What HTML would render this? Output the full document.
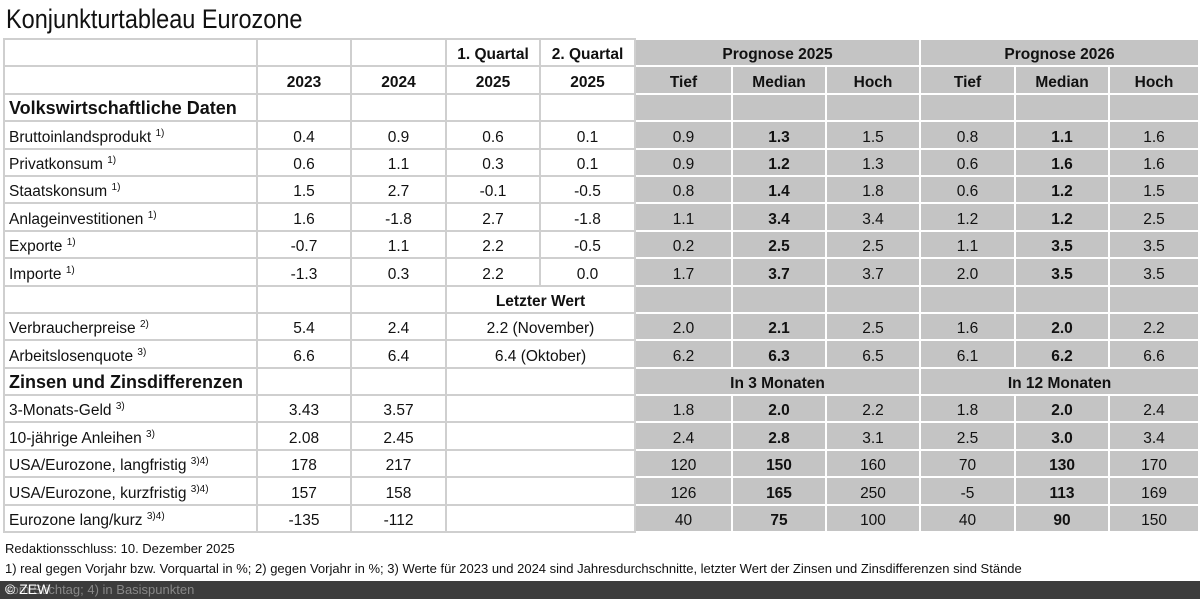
<!DOCTYPE html>
<html><head><meta charset="utf-8"><style>
body{margin:0;width:1200px;height:599px;background:#fff;font-family:"Liberation Sans",sans-serif;color:#111;position:relative;overflow:hidden}
h1{position:absolute;left:6px;top:4px;margin:0;font-size:27px;font-weight:normal;transform:scaleX(0.87);transform-origin:0 0}
table{position:absolute;left:3px;top:38px;border-collapse:separate;border-spacing:0;table-layout:fixed;width:1197px}
td{height:24.4px;padding:0;border-right:2px solid #cfcfcf;border-bottom:2px solid #cfcfcf;text-align:center;font-size:15.5px;vertical-align:bottom;padding-bottom:1px;white-space:nowrap;overflow:hidden}
tr:first-child td{border-top:2px solid #cfcfcf}
td:first-child{border-left:2px solid #cfcfcf;text-align:left;padding-left:4px}
td.g{background:#c4c4c4;border-right:2px solid #fff;border-bottom:2px solid #fff}
tr:first-child td.g{border-top:2px solid #fff}
.b{font-weight:bold}
sup{font-size:10px;vertical-align:6px}
.sec{font-size:18px;font-weight:bold}
.foot{position:absolute;left:5px;font-size:13px}
.band{position:absolute;left:0;top:581px;width:1200px;height:18px;background:#3c3c3c;color:#fff;font-size:14px}
</style></head><body>
<h1>Konjunkturtableau Eurozone</h1>
<table>
<colgroup><col style="width:255px"><col style="width:94px"><col style="width:95px"><col style="width:94px"><col style="width:95px"><col style="width:97px"><col style="width:94px"><col style="width:94px"><col style="width:95px"><col style="width:94px"><col style="width:90px"></colgroup>
<tr><td></td><td></td><td></td><td class="b">1. Quartal</td><td class="b">2. Quartal</td><td class="g b" colspan="3">Prognose 2025</td><td class="g b" colspan="3">Prognose 2026</td></tr>
<tr><td></td><td class="b">2023</td><td class="b">2024</td><td class="b">2025</td><td class="b">2025</td><td class="g b">Tief</td><td class="g b">Median</td><td class="g b">Hoch</td><td class="g b">Tief</td><td class="g b">Median</td><td class="g b">Hoch</td></tr>
<tr><td class="sec">Volkswirtschaftliche Daten</td><td></td><td></td><td></td><td></td><td class="g"></td><td class="g"></td><td class="g"></td><td class="g"></td><td class="g"></td><td class="g"></td></tr>
<tr><td>Bruttoinlandsprodukt <sup>1)</sup></td><td>0.4</td><td>0.9</td><td>0.6</td><td>0.1</td><td class="g">0.9</td><td class="g b">1.3</td><td class="g">1.5</td><td class="g">0.8</td><td class="g b">1.1</td><td class="g">1.6</td></tr>
<tr><td>Privatkonsum <sup>1)</sup></td><td>0.6</td><td>1.1</td><td>0.3</td><td>0.1</td><td class="g">0.9</td><td class="g b">1.2</td><td class="g">1.3</td><td class="g">0.6</td><td class="g b">1.6</td><td class="g">1.6</td></tr>
<tr><td>Staatskonsum <sup>1)</sup></td><td>1.5</td><td>2.7</td><td>-0.1</td><td>-0.5</td><td class="g">0.8</td><td class="g b">1.4</td><td class="g">1.8</td><td class="g">0.6</td><td class="g b">1.2</td><td class="g">1.5</td></tr>
<tr><td>Anlageinvestitionen <sup>1)</sup></td><td>1.6</td><td>-1.8</td><td>2.7</td><td>-1.8</td><td class="g">1.1</td><td class="g b">3.4</td><td class="g">3.4</td><td class="g">1.2</td><td class="g b">1.2</td><td class="g">2.5</td></tr>
<tr><td>Exporte <sup>1)</sup></td><td>-0.7</td><td>1.1</td><td>2.2</td><td>-0.5</td><td class="g">0.2</td><td class="g b">2.5</td><td class="g">2.5</td><td class="g">1.1</td><td class="g b">3.5</td><td class="g">3.5</td></tr>
<tr><td>Importe <sup>1)</sup></td><td>-1.3</td><td>0.3</td><td>2.2</td><td>0.0</td><td class="g">1.7</td><td class="g b">3.7</td><td class="g">3.7</td><td class="g">2.0</td><td class="g b">3.5</td><td class="g">3.5</td></tr>
<tr><td></td><td></td><td></td><td colspan="2" class="b">Letzter Wert</td><td class="g"></td><td class="g"></td><td class="g"></td><td class="g"></td><td class="g"></td><td class="g"></td></tr>
<tr><td>Verbraucherpreise <sup>2)</sup></td><td>5.4</td><td>2.4</td><td colspan="2">2.2 (November)</td><td class="g">2.0</td><td class="g b">2.1</td><td class="g">2.5</td><td class="g">1.6</td><td class="g b">2.0</td><td class="g">2.2</td></tr>
<tr><td>Arbeitslosenquote <sup>3)</sup></td><td>6.6</td><td>6.4</td><td colspan="2">6.4 (Oktober)</td><td class="g">6.2</td><td class="g b">6.3</td><td class="g">6.5</td><td class="g">6.1</td><td class="g b">6.2</td><td class="g">6.6</td></tr>
<tr><td class="sec">Zinsen und Zinsdifferenzen</td><td></td><td></td><td colspan="2"></td><td class="g b" colspan="3">In 3 Monaten</td><td class="g b" colspan="3">In 12 Monaten</td></tr>
<tr><td>3-Monats-Geld <sup>3)</sup></td><td>3.43</td><td>3.57</td><td colspan="2"></td><td class="g">1.8</td><td class="g b">2.0</td><td class="g">2.2</td><td class="g">1.8</td><td class="g b">2.0</td><td class="g">2.4</td></tr>
<tr><td>10-jährige Anleihen <sup>3)</sup></td><td>2.08</td><td>2.45</td><td colspan="2"></td><td class="g">2.4</td><td class="g b">2.8</td><td class="g">3.1</td><td class="g">2.5</td><td class="g b">3.0</td><td class="g">3.4</td></tr>
<tr><td>USA/Eurozone, langfristig <sup>3)4)</sup></td><td>178</td><td>217</td><td colspan="2"></td><td class="g">120</td><td class="g b">150</td><td class="g">160</td><td class="g">70</td><td class="g b">130</td><td class="g">170</td></tr>
<tr><td>USA/Eurozone, kurzfristig <sup>3)4)</sup></td><td>157</td><td>158</td><td colspan="2"></td><td class="g">126</td><td class="g b">165</td><td class="g">250</td><td class="g">-5</td><td class="g b">113</td><td class="g">169</td></tr>
<tr><td>Eurozone lang/kurz <sup>3)4)</sup></td><td>-135</td><td>-112</td><td colspan="2"></td><td class="g">40</td><td class="g b">75</td><td class="g">100</td><td class="g">40</td><td class="g b">90</td><td class="g">150</td></tr>
</table>
<div class="foot" style="top:541px">Redaktionsschluss: 10. Dezember 2025</div>
<div class="foot" style="top:561px">1) real gegen Vorjahr bzw. Vorquartal in %; 2) gegen Vorjahr in %; 3) Werte für 2023 und 2024 sind Jahresdurchschnitte, letzter Wert der Zinsen und Zinsdifferenzen sind Stände</div>
<div class="band"><span style="position:absolute;left:5px;top:1px;color:#888;font-size:13px">vom Stichtag; 4) in Basispunkten</span><span style="position:absolute;left:5px;top:0">© ZEW</span></div>
</body></html>
